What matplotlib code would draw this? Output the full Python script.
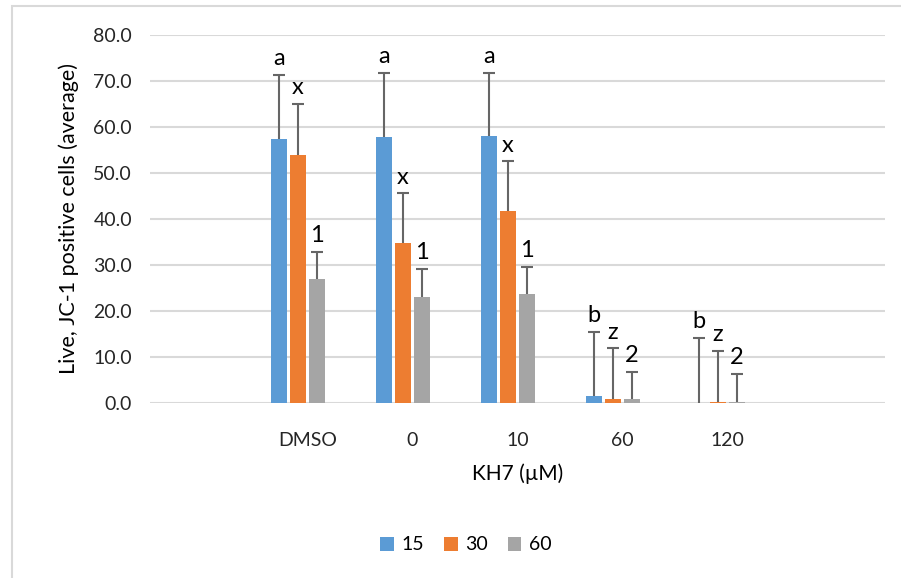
import numpy as np
import matplotlib
matplotlib.use("Agg")
import matplotlib.pyplot as plt
from matplotlib.patches import Rectangle

# KH7 concentrations (blank slots at both ends of the category axis)
categories = ["", "DMSO", "0", "10", "60", "120", ""]
series = ["15", "30", "60"]
colors = ["#5B9BD5", "#ED7D31", "#A5A5A5"]

# averages and upper error for each time point, per KH7 group
mean_15 = [57.3, 57.9, 58.0, 1.5, 0.1]
mean_30 = [54.0, 34.7, 41.7, 0.9, 0.2]
mean_60 = [27.0, 23.0, 23.7, 0.8, 0.2]
err_15 = [14.0, 13.9, 13.8, 14.0, 14.0]
err_30 = [11.0, 10.9, 10.8, 11.0, 11.1]
err_60 = [5.9, 6.1, 5.9, 6.0, 6.1]
letters_15 = ["a", "a", "a", "b", "b"]
letters_30 = ["x", "x", "x", "z", "z"]
letters_60 = ["1", "1", "1", "2", "2"]

means = [mean_15, mean_30, mean_60]
errs = [err_15, err_30, err_60]
letters = [letters_15, letters_30, letters_60]

plt.rcParams['font.family'] = ['Lato', 'DejaVu Sans']

fig = plt.figure(figsize=(9.01, 5.78), dpi=100)
ax = fig.add_axes([150 / 901, 1 - 403 / 578, 735 / 901, 368 / 578])

# outer chart frame
fig.patches.append(Rectangle((12 / 901, -0.1), 1.2, 1.1 - 6 / 578,
                             transform=fig.transFigure, fill=False,
                             edgecolor="#D9D9D9", linewidth=1.5))

x = np.arange(1, 6)
step = 0.181
width = 0.143
# four slots per group, the fourth one is empty
offsets = (np.arange(4) - 1.5) * step

for i in range(3):
    xi = x + offsets[i]
    ax.bar(xi, means[i], width=width, color=colors[i], label=series[i],
           zorder=3)
    top = np.array(means[i]) + np.array(errs[i])
    _, caps, _ = ax.errorbar(xi, means[i], yerr=[np.zeros(5), errs[i]],
                             fmt="none", ecolor="#666666", elinewidth=1.5,
                             capsize=4, capthick=1.5, zorder=4)
    # only the upper cap is wanted
    for c in caps:
        if not np.allclose(c.get_ydata(), top):
            c.set_visible(False)
    for xx, t_y, t in zip(xi, top, letters[i]):
        ax.annotate(t, (xx, t_y), xytext=(0, 7), textcoords="offset points",
                    ha="center", va="baseline", fontsize=17, color="black")

ax.set_xlim(-0.5, 6.5)
ax.set_ylim(0, 80)
ax.set_yticks(np.arange(0, 81, 10))
ax.set_yticklabels([f"{v:.1f}" for v in np.arange(0, 81, 10)])
ax.set_xticks(np.arange(7))
ax.set_xticklabels(categories)
ax.tick_params(axis="both", length=0, labelsize=14, colors="#262626")
ax.tick_params(axis="x", pad=21)
ax.tick_params(axis="y", pad=13)
ax.grid(axis="y", color="#D9D9D9", linewidth=1.5, zorder=0)
for s in ax.spines.values():
    s.set_visible(False)

ax.set_ylabel("Live, JC-1 positive cells (average)", fontsize=15.5,
              labelpad=10)
ax.set_xlabel("KH7 (µM)", fontsize=15, labelpad=10)

fig.legend(loc="center", bbox_to_anchor=(466 / 901, 1 - 545 / 578), ncol=3,
           frameon=False, fontsize=14, handlelength=0.7, handleheight=0.7,
           handletextpad=0.4, columnspacing=1.0)

fig.savefig("out.png", dpi=100)
